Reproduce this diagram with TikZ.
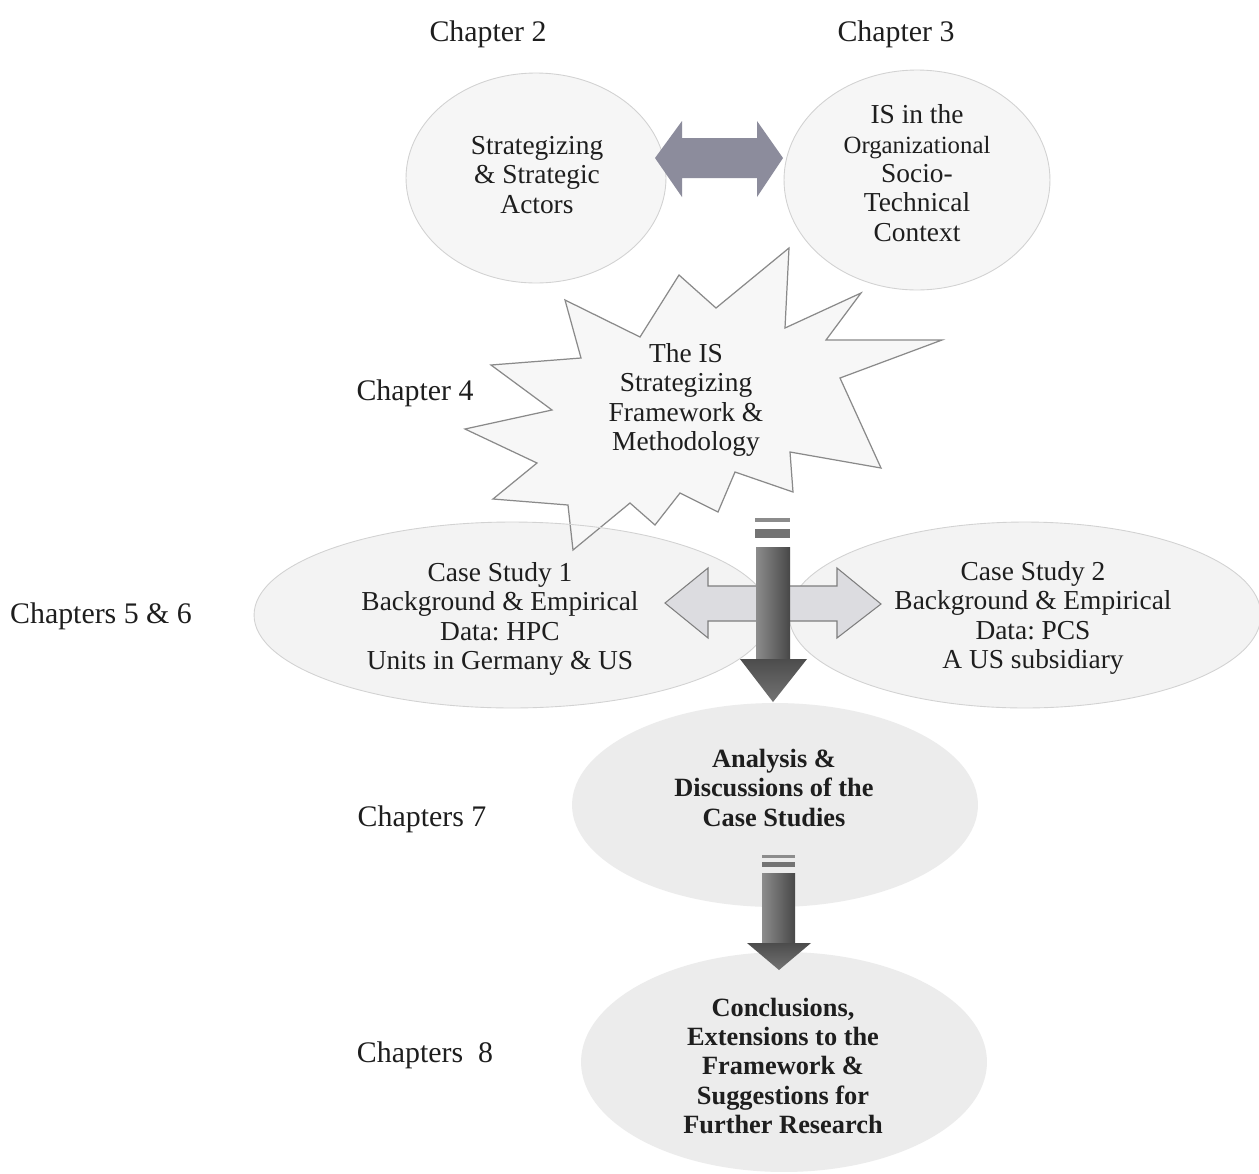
\documentclass[tikz,border=0pt]{standalone}
\usepackage{fontspec}
\setmainfont{Liberation Serif}
\usetikzlibrary{shapes.geometric}
\frenchspacing

\definecolor{bubble}{HTML}{F6F6F6}
\definecolor{bubbleline}{HTML}{D2D2D2}
\definecolor{casefill}{HTML}{F3F3F3}
\definecolor{lowfill}{HTML}{ECECEC}
\definecolor{twinarrow}{HTML}{8C8C9C}
\definecolor{crossfill}{HTML}{DCDCE0}
\definecolor{crossline}{HTML}{7E7E7E}
\definecolor{starline}{HTML}{8A8A8A}
\definecolor{inkdark}{HTML}{1E1E1E}

\tikzset{
  bubble/.style={ellipse, inner sep=0pt, fill=bubble, draw=bubbleline, line width=0.5pt},
  casebubble/.style={ellipse, inner sep=0pt, fill=casefill, draw=none},
  caseedge/.style={draw=bubbleline, line width=0.5pt},
  lowbubble/.style={ellipse, inner sep=0pt, fill=lowfill, draw=none},
  body/.style={align=center, text=inkdark, font=\fontsize{15.6pt}{16.7pt}\selectfont, inner sep=0pt},
  bodybold/.style={body, font=\fontsize{15pt}{16.7pt}\selectfont\bfseries},
  chapter/.style={text=inkdark, font=\fontsize{17pt}{19pt}\selectfont, inner sep=0pt},
  darkshaft/.style={left color=black!45, right color=black!72, draw=none},
  darkhead/.style={top color=black!70, bottom color=black!55, draw=none},
}

\begin{document}
\begin{tikzpicture}[x=0.02cm, y=-0.02cm]
  \useasboundingbox[fill=white] (0,0) rectangle (1259,1174);

  % chapter 2 and 3 topics
  \node[bubble, minimum width=5.2cm, minimum height=4.2cm] (strat) at (536,178) {};
  \node[bubble, minimum width=5.32cm, minimum height=4.4cm] (istech) at (917,180) {};

  % two-way block arrow between them
  \fill[twinarrow] (655,158) -- (682,121) -- (682,138) -- (757,138) -- (757,121)
    -- (783,158) -- (757,197) -- (757,178) -- (682,178) -- (682,197) -- cycle;

  % case study bubbles (filled below the starburst, outlined above it)
  \node[casebubble, minimum width=10.32cm, minimum height=3.72cm] (case1) at (512,615) {};
  \node[casebubble, minimum width=9.44cm, minimum height=3.72cm] (case2) at (1025,615) {};

  % framework starburst
  \filldraw[fill=white!97!black, draw=starline, line width=0.7pt]
    (789,248) -- (785,328) -- (861,293) -- (826,340) -- (942,340) -- (840,378)
    -- (881,468) -- (790,452) -- (793,492) -- (735,472) -- (718,512) -- (680,493)
    -- (655,525) -- (630,503) -- (573,550) -- (568,505) -- (493,499) -- (537,463)
    -- (465,429) -- (552,410) -- (491,365) -- (581,358) -- (565,300) -- (640,337)
    -- (679,275) -- (716,308) -- cycle;

  \draw[caseedge] (case1.center) ellipse [x radius=5.16cm, y radius=1.86cm];
  \draw[caseedge] (case2.center) ellipse [x radius=4.72cm, y radius=1.86cm];

  % analysis and conclusions
  \node[lowbubble, minimum width=8.12cm, minimum height=4.08cm] (analysis) at (775,805) {};
  \node[lowbubble, minimum width=8.12cm, minimum height=4.4cm] (concl) at (784,1062) {};

  % cross arrow between the case studies
  \filldraw[fill=crossfill, draw=crossline, line width=0.6pt]
    (665,603) -- (708,568) -- (708,586) -- (837,586) -- (837,568) -- (881,604)
    -- (837,638) -- (837,621) -- (708,621) -- (708,638) -- cycle;

  % downward arrow from the framework
  \fill[black!45] (755,518) rectangle (790,522);
  \fill[black!55] (755,529) rectangle (790,538);
  \shade[darkshaft] (756,547) rectangle (790,659);
  \shade[darkhead] (740,659) -- (807,659) -- (773,702) -- cycle;

  % downward arrow from the analysis
  \fill[black!45] (762,855) rectangle (795,858);
  \fill[black!55] (762,862) rectangle (795,867);
  \shade[darkshaft] (762,873) rectangle (795,943);
  \shade[darkhead] (747,943) -- (811,943) -- (779,970) -- cycle;

  % texts
  \node[body] (t-strat) at (537,175) {Strategizing\\ \& Strategic\\ Actors};
  \node[body] (t-istech) at (917,173) {IS in the\\ {\fontsize{14.1pt}{16.7pt}\selectfont Organizational}\\ Socio-\\ Technical\\ Context};
  \node[body] (t-frame) at (686,400) {The IS\\ Strategizing\\ Framework \&\\ Methodology};
  \node[body] (t-case1) at (500,619) {Case Study 1\\ Background \& Empirical\\ Data: HPC\\ Units in Germany \& US};
  \node[body] (t-case2) at (1033,618) {Case Study 2\\ Background \& Empirical\\ Data: PCS\\ A US subsidiary};
  \node[bodybold] (t-analysis) at (774,788) {Analysis \&\\ Discussions of the\\ Case Studies};
  \node[bodybold] (t-concl) at (783,1066) {Conclusions,\\ Extensions to the\\ Framework \&\\ Suggestions for\\ Further Research};

  % chapter labels
  \node[chapter] (ch2) at (488,34) {Chapter 2};
  \node[chapter] (ch3) at (896,34) {Chapter 3};
  \node[chapter] (ch4) at (415,393) {Chapter 4};
  \node[chapter] (ch56) at (101,616) {Chapters 5 \& 6};
  \node[chapter] (ch7) at (422,819) {Chapters 7};
  \node[chapter] (ch8) at (425,1055) {Chapters\ \ 8};
\end{tikzpicture}
\end{document}
